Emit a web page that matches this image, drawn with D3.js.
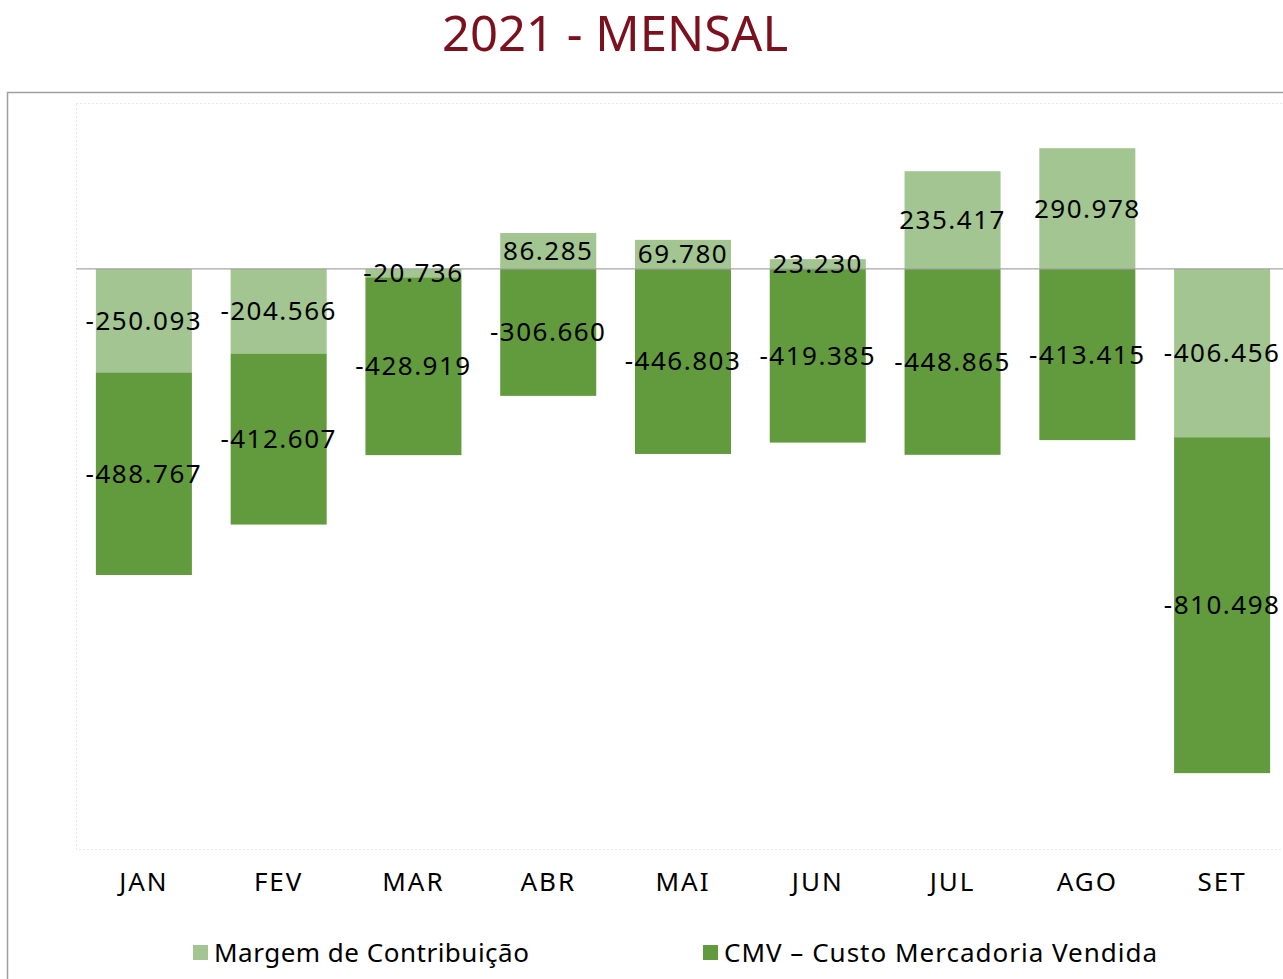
<!DOCTYPE html>
<html>
<head>
<meta charset="utf-8">
<script src="https://cdn.jsdelivr.net/npm/d3@7"></script>
<style>
  body { margin: 0; background: #fff; }
  text { font-family: "Noto Sans", "Open Sans", sans-serif; }
</style>
</head>
<body>
<svg id="chart" width="1283" height="979"></svg>
<script>
var months = ['JAN', 'FEV', 'MAR', 'ABR', 'MAI', 'JUN', 'JUL', 'AGO', 'SET'];
var margem = [-250093, -204566, -20736, 86285, 69780, 23230, 235417, 290978, -406456];
var cmv = [-488767, -412607, -428919, -306660, -446803, -419385, -448865, -413415, -810498];
var seriesNames = ['Margem de Contribuição', 'CMV – Custo Mercadoria Vendida'];
var seriesKeys = ['margem', 'cmv'];
var colors = ['#a2c592', '#629a3e'];

var svg = d3.select('#chart');
var W = 1283, H = 979;

var plot = {left: 76.5, right: 1289.5, top: 103, bottom: 849};

var br = d3.formatLocale({decimal: ',', thousands: '.', grouping: [3], currency: ['R$', ''], minus: '-'});
var fmt = br.format(',d');

var rows = months.map(function(m, i) {
    return {month: m, margem: margem[i], cmv: cmv[i]};
});

var stacked = d3.stack()
    .keys(seriesKeys)
    .offset(d3.stackOffsetDiverging)(rows);

var x = d3.scaleBand()
    .domain(months)
    .range([plot.left, plot.right])
    .paddingInner(0.2876)
    .paddingOuter(0.1438);

var y = d3.scaleLinear()
    .domain([-1400000, 400000])
    .range([plot.bottom, plot.top]);

// title
svg.append('text')
    .attr('x', 615)
    .attr('y', 51)
    .attr('text-anchor', 'middle')
    .attr('font-size', 49)
    .attr('fill', '#7b111e')
    .text('2021 - MENSAL');

// outer chart frame
svg.append('rect')
    .attr('x', 7.5).attr('y', 92.5)
    .attr('width', W + 10).attr('height', H)
    .attr('fill', 'none')
    .attr('stroke', '#a0a0a0')
    .attr('stroke-width', 1.5);

// plot area dotted border
svg.append('rect')
    .attr('x', plot.left).attr('y', plot.top + 0.5)
    .attr('width', plot.right - plot.left).attr('height', plot.bottom - plot.top)
    .attr('fill', 'none')
    .attr('stroke', '#d0d0d0')
    .attr('stroke-dasharray', '1,3');

// bars
var groups = svg.selectAll('g.series')
    .data(stacked)
    .enter().append('g')
    .attr('class', 'series')
    .attr('fill', function(d, i) { return colors[i]; });

groups.selectAll('rect')
    .data(function(d) { return d; })
    .enter().append('rect')
    .attr('x', function(d) { return x(d.data.month); })
    .attr('width', x.bandwidth())
    .attr('y', function(d) { return y(Math.max(d[0], d[1])); })
    .attr('height', function(d) { return Math.abs(y(d[0]) - y(d[1])); });

// zero line
svg.append('line')
    .attr('x1', plot.left).attr('x2', W)
    .attr('y1', y(0)).attr('y2', y(0))
    .attr('stroke', '#a6a6a6')
    .attr('stroke-width', 1.2);

// value labels
stacked.forEach(function(s) {
    svg.append('g').selectAll('text')
        .data(s)
        .enter().append('text')
        .attr('x', function(d) { return x(d.data.month) + x.bandwidth() / 2; })
        .attr('y', function(d) { return (y(d[0]) + y(d[1])) / 2; })
        .attr('dy', '0.35em')
        .attr('text-anchor', 'middle')
        .attr('font-size', 26)
        .attr('letter-spacing', 1.5)
        .attr('fill', '#000')
        .text(function(d) { return fmt(d.data[s.key]); });
});

// category axis labels
svg.append('g').selectAll('text')
    .data(months)
    .enter().append('text')
    .attr('x', function(d) { return x(d) + x.bandwidth() / 2; })
    .attr('y', 882)
    .attr('dy', '0.35em')
    .attr('text-anchor', 'middle')
    .attr('font-size', 26)
    .attr('letter-spacing', 2)
    .attr('fill', '#000')
    .text(function(d) { return d; });

// legend
var legendX = [193, 703];
var legend = svg.append('g').selectAll('g')
    .data(seriesNames)
    .enter().append('g')
    .attr('transform', function(d, i) { return 'translate(' + legendX[i] + ',953)'; });

legend.append('rect')
    .attr('x', 0).attr('y', -8)
    .attr('width', 15).attr('height', 15)
    .attr('fill', function(d, i) { return colors[i]; });

legend.append('text')
    .attr('x', 21)
    .attr('y', 0)
    .attr('dy', '0.35em')
    .attr('font-size', 26)
    .attr('letter-spacing', function(d, i) { return i ? 1 : 0.5; })
    .attr('fill', '#000')
    .text(function(d) { return d; });
</script>
</body>
</html>
